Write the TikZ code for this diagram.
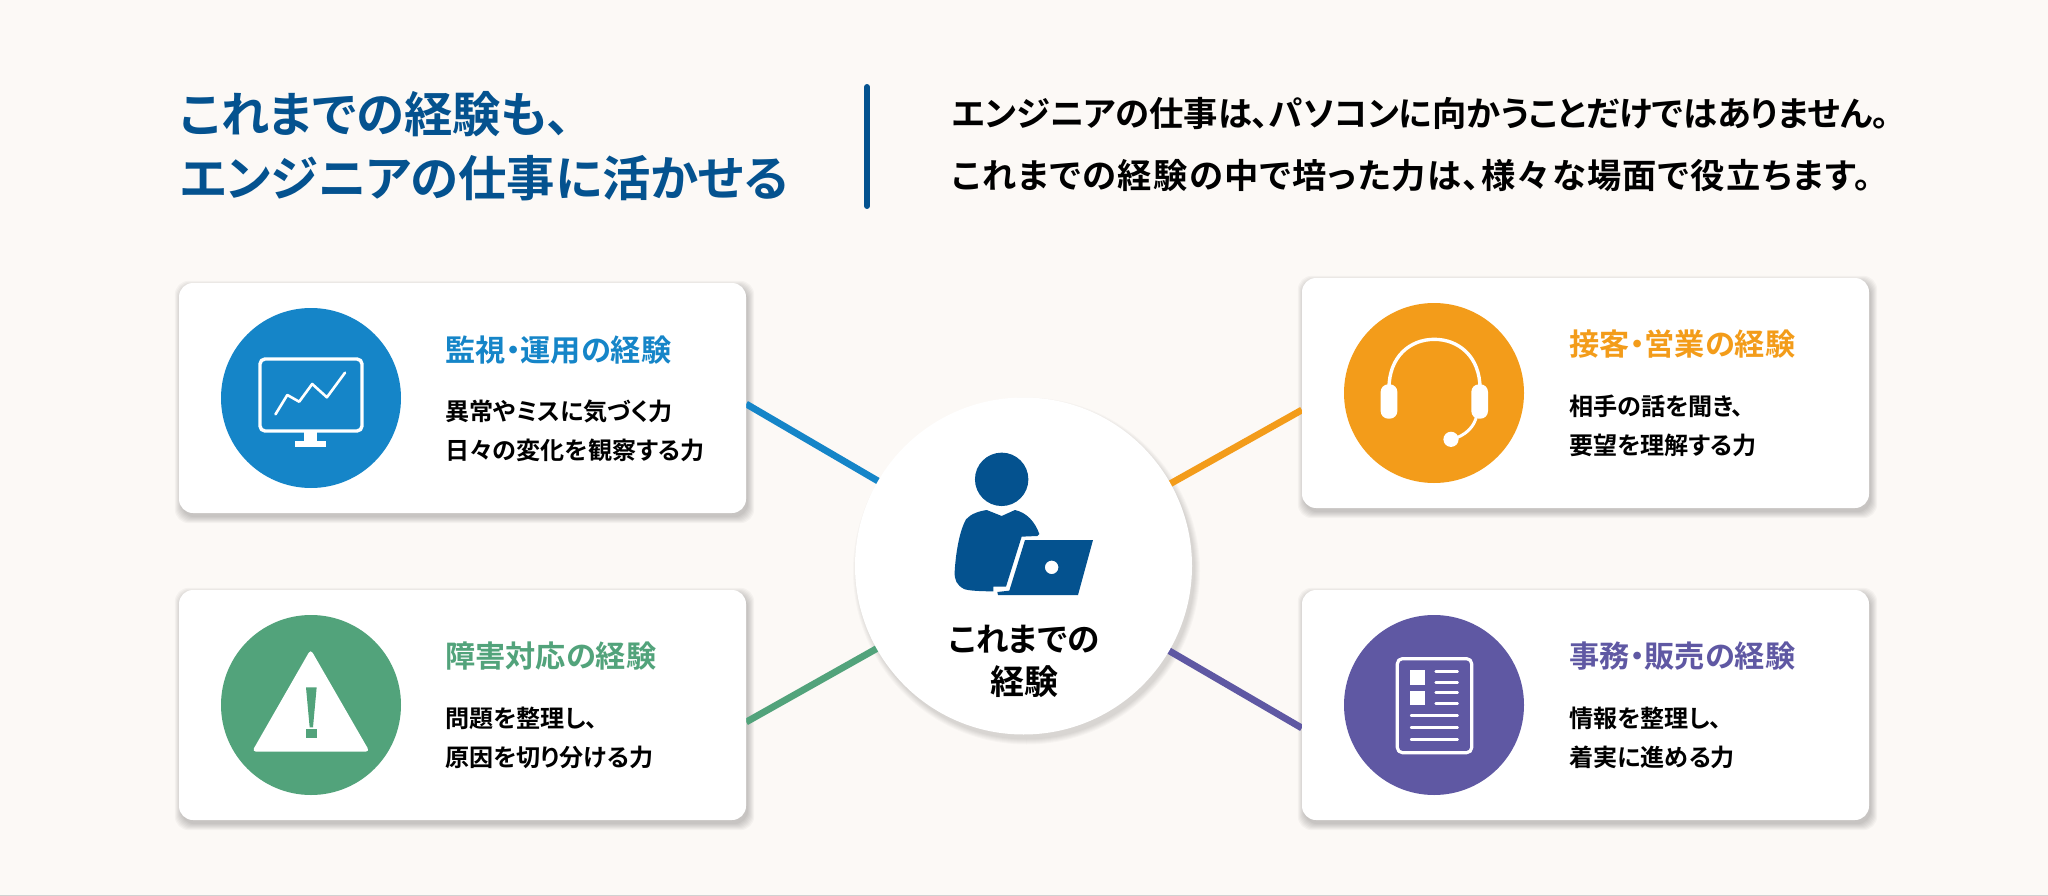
\documentclass[tikz,border=0pt]{standalone}
\usepackage{fontspec}
\usetikzlibrary{calc}
\setmainfont{Noto Sans CJK JP}[RawFeature=+palt,UprightFont={* Medium},BoldFont={* Bold}]
\definecolor{pagebg}{HTML}{FCF9F6}
\definecolor{navy}{HTML}{04528F}
\definecolor{cblue}{HTML}{1585C8}
\definecolor{corange}{HTML}{F39C1A}
\definecolor{cgreen}{HTML}{52A37B}
\definecolor{cpurple}{HTML}{5F58A3}
\pgfdeclarelayer{bottomlayer}\pgfdeclarelayer{shadlayer}\pgfdeclarelayer{connlayer}
\pgfsetlayers{bottomlayer,shadlayer,connlayer,main}
\tikzset{
 card/.style={draw=none,fill=white,rounded corners=14pt,minimum width=567pt,minimum height=230pt,inner sep=0pt},
 iconbg/.style={circle,inner sep=0pt,minimum size=180pt,fill=#1},
 hub/.style={circle,inner sep=0pt,minimum size=337pt,fill=white},
 conn/.style={draw=#1,line width=6.8pt},
 headline/.style={anchor=west,inner sep=0pt,align=left,text=navy,font=\bfseries\fontsize{48.4}{63.5}\selectfont},
 leadtext/.style={anchor=west,inner sep=0pt,align=left,text=black,font=\bfseries\fontsize{34.3}{62}\selectfont},
 cardtitle/.style={anchor=west,inner sep=0pt,text=#1,font=\bfseries\fontsize{30.2}{36}\selectfont},
 cardbody/.style={anchor=west,inner sep=0pt,align=left,text=black,font=\bfseries\fontsize{24.1}{39}\selectfont},
 hublabel/.style={anchor=center,inner sep=0pt,align=center,text=black,font=\bfseries\fontsize{34}{43}\selectfont},
 zoomed/.style 2 args={shift={(#1,#2)},x=0.33333pt,y=-0.33333pt},
 wline/.style={draw=white,line width=#1,line cap=round,line join=round},
 divider/.style={draw=navy,line width=6pt,line cap=round},
}
\newcommand{\cardshadow}[1]{%
 \begin{pgfonlayer}{shadlayer}
 \foreach \i in {0,...,6}{
  \fill[black,opacity=0.03,rounded corners=14pt]
   ($(#1.south west)+(2-\i,4+\i)$) rectangle ($(#1.north east)+(2+\i,4-\i)$);
 }
 \end{pgfonlayer}}
\begin{document}
\begin{tikzpicture}[x=1pt,y=-1pt]
\useasboundingbox (0,0) rectangle (2048,896);
\begin{pgfonlayer}{bottomlayer}
 \fill[pagebg] (0,0) rectangle (2048,896);
 \fill[black!18] (0,895) rectangle (2048,896);
\end{pgfonlayer}

% header
\node[headline] (head) at (180,146) {これまでの経験も、\\エンジニアの仕事に活かせる};
\coordinate (divtop) at (867,87);
\coordinate (divbot) at (867,206);
\draw[divider] (divtop) -- (divbot);
\node[leadtext] (lead) at (952,144.5) {エンジニアの仕事は、パソコンに向かうことだけではありません。\\{\addfontfeature{LetterSpace=4}これまでの経験の中で培った力は、様々な場面で役立ちます。}};

% cards
\node[card] (card1) at (462.5,398) {};
\node[card] (card2) at (1585.5,393) {};
\node[card] (card3) at (462.5,705) {};
\node[card] (card4) at (1585.5,705) {};
\cardshadow{card1}\cardshadow{card2}\cardshadow{card3}\cardshadow{card4}

% hub
\node[hub] (hub) at (1023.5,566) {};
\begin{pgfonlayer}{shadlayer}
 \foreach \i in {0,...,5}{
  \fill[black,opacity=0.022] ($(hub.center)+(3,5)$) circle[radius=168.5pt+\i pt];
 }
\end{pgfonlayer}

% connectors
\begin{pgfonlayer}{connlayer}
 \draw[conn=cblue] ($(card1.east)+(0,6)$) -- (hub.center);
 \draw[conn=corange] ($(card2.west)+(0,17)$) -- (hub.center);
 \draw[conn=cgreen] ($(card3.east)+(0,17)$) -- (hub.center);
 \draw[conn=cpurple] ($(card4.west)+(0,23)$) -- (hub.center);
\end{pgfonlayer}

% hub icon
\begin{scope}[zoomed={840}{390}]
 \fill[navy] (485,268) circle[radius=26.7pt];
 \fill[navy] (440,360) -- (485,378) -- (525,360)
   .. controls (560,368) and (585,395) .. (598,432)
   -- (592,438) -- (545,440) -- (498,590) -- (460,590) -- (460,604)
   .. controls (420,604) and (385,602) .. (372,597)
   .. controls (350,585) and (343,570) .. (344,545)
   .. controls (348,480) and (360,420) .. (378,388)
   .. controls (392,372) and (415,364) .. (440,360) -- cycle;
 \fill[navy,even odd rule] (555,450) -- (759,450) -- (714,615) -- (474,615) -- (472,606) -- (508,602) -- cycle
   (635,532) circle[radius=6.8pt];
\end{scope}
\node[hublabel] (hubtext) at (1024,661) {{\fontsize{32.6}{43}\selectfont これまでの}\\経験};

% card 1
\node[iconbg=cblue] (icon1) at (311,398) {};
\draw[wline=3.4pt,rounded corners=5pt] (260,359) rectangle (362,431);
\draw[wline=2.6pt,line cap=round] (275.5,414.3) -- (287.3,395) -- (299.2,401.7) -- (312.2,384) -- (326.9,397.3) -- (345,372.7);
\fill[white] (304,432) rectangle (317,442);
\fill[white] (295,441) rectangle (326,447);
\node[cardtitle=cblue] (title1) at (445,350) {監視・運用の経験};
\node[cardbody] (body1) at (445,431) {異常やミスに気づく力\\日々の変化を観察する力};

% card 2
\node[iconbg=corange] (icon2) at (1434,393) {};
\begin{scope}[zoomed={1320}{280}]
 \draw[wline=3.4pt] (207,325) .. controls (207,230) and (270,178) .. (343,178) .. controls (416,178) and (480,230) .. (480,325);
 \fill[white,rounded corners=7.5pt] (182,313) rectangle (232,416);
 \fill[white,rounded corners=7.5pt] (454,313) rectangle (504,416);
 \draw[wline=3pt] (470,405) .. controls (465,440) and (435,468) .. (395,478);
 \fill[white] (393,478) circle[radius=7.6pt];
\end{scope}
\node[cardtitle=corange] (title2) at (1569,344.5) {接客・営業の経験};
\node[cardbody] (body2) at (1569,426) {相手の話を聞き、\\要望を理解する力};

% card 3
\node[iconbg=cgreen] (icon3) at (311,705) {};
\begin{scope}[zoomed={200}{600}]
 \fill[white,rounded corners=4pt] (332,148) -- (509,455) -- (156,455) -- cycle;
 \fill[cgreen] (318,262) -- (350,262) -- (339,382) -- (329,382) -- cycle;
 \fill[cgreen] (318,388) rectangle (350,414);
\end{scope}
\node[cardtitle=cgreen] (title3) at (445,656) {障害対応の経験};
\node[cardbody] (body3) at (445,738) {問題を整理し、\\原因を切り分ける力};

% card 4
\node[iconbg=cpurple] (icon4) at (1434,705) {};
\begin{scope}[zoomed={1320}{600}]
 \draw[wline=3.2pt,rounded corners=5pt] (232,176) rectangle (455,458);
 \fill[white] (270,210) rectangle (314,254);
 \fill[white] (270,272) rectangle (314,316);
 \foreach \yy in {214,248,277,310}{\draw[wline=2.4pt] (347,\yy) -- (413,\yy);}
 \foreach \yy in {347,383,419}{\draw[wline=2.4pt] (273,\yy) -- (413,\yy);}
\end{scope}
\node[cardtitle=cpurple] (title4) at (1569,656) {事務・販売の経験};
\node[cardbody] (body4) at (1569,738) {情報を整理し、\\着実に進める力};
\end{tikzpicture}
\end{document}
